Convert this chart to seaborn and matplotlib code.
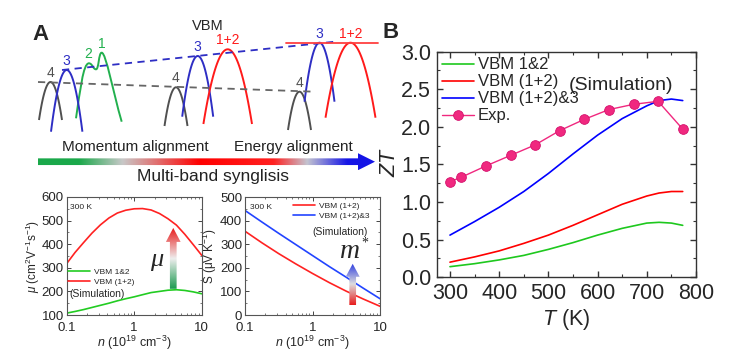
import numpy as np
import seaborn as sns
import matplotlib.pyplot as plt
import matplotlib.ticker as ticker
from matplotlib.patches import FancyArrow, PathPatch
from matplotlib.path import Path
from matplotlib.colors import LinearSegmentedColormap

# ---- data: panel B (ZT vs T) ----
T_sim = [300, 350, 400, 450, 500, 550, 600, 650, 700, 725, 750, 773]
zt_12 = [0.14, 0.18, 0.23, 0.29, 0.37, 0.46, 0.56, 0.65, 0.72, 0.73, 0.72, 0.69]
zt_1p2 = [0.20, 0.27, 0.35, 0.45, 0.56, 0.69, 0.83, 0.97, 1.08, 1.12, 1.14, 1.14]
zt_1p2_3 = [0.56, 0.74, 0.93, 1.14, 1.38, 1.64, 1.89, 2.11, 2.28, 2.35, 2.37, 2.35]
T_exp = [300, 323, 373, 423, 473, 523, 573, 623, 673, 723, 773]
zt_exp = [1.27, 1.33, 1.48, 1.62, 1.76, 1.95, 2.10, 2.23, 2.30, 2.34, 1.97]

# ---- data: mobility vs n ----
n_mu = [0.1, 0.133, 0.178, 0.237, 0.316, 0.422, 0.562, 0.75, 1.0,
        1.33, 1.78, 2.37, 3.16, 4.22, 5.62, 7.5, 10]
mu_12 = [108, 115, 123, 132, 141, 150, 160, 169, 177,
         186, 195, 200, 205, 207, 204, 198, 190]
mu_1p2 = [318, 365, 407, 447, 482, 511, 532, 544, 550,
          551, 545, 530, 508, 481, 442, 398, 353]

# ---- data: Seebeck vs n ----
n_s = [0.1, 0.178, 0.316, 0.562, 1.0, 1.78, 3.16, 5.62, 10]
s_1p2 = [355, 306, 260, 217, 176, 137, 101, 68, 37]
s_1p2_3 = [443, 394, 346, 299, 252, 205, 160, 114, 69]

# ---- schematic bands (figure pixels, y down) ----
band_x = [50.5, 66.7, 176, 197.7, 227.7, 299.5, 319.5, 350.5]
band_top = [82, 70, 87.3, 56, 49.3, 91.7, 42.7, 42.7]
band_half = [11.5, 15.7, 11.5, 15.5, 24.3, 11.5, 15.0, 25.0]
band_depth = [38, 61.7, 38.7, 60.7, 74.7, 38.3, 59, 75]
band_label = ['4', '3', '4', '3', '1+2', '4', '3', '1+2']
band_kind = ['g', 'b', 'g', 'b', 'r', 'g', 'b', 'r']

GRAY, BLUE, RED, GREEN = '#505050', '#2e2ec4', '#ff1a1a', '#22b04e'
kind_col = {'g': GRAY, 'b': BLUE, 'r': RED}

sns.set_style('ticks')
plt.rcParams['font.family'] = ['Liberation Sans', 'DejaVu Sans']
plt.rcParams['mathtext.fontset'] = 'custom'
plt.rcParams['mathtext.rm'] = 'Liberation Sans'
plt.rcParams['mathtext.it'] = 'Liberation Sans:italic'
plt.rcParams['mathtext.bf'] = 'Liberation Sans:bold'

W, H = 737, 352
fig = plt.figure(figsize=(W / 100, H / 100), dpi=100)


def px_axes(l, t, r, b):
    return fig.add_axes([l / W, 1 - b / H, (r - l) / W, (b - t) / H])


ax_mu = px_axes(66.7, 197, 201.7, 315)
ax_s = px_axes(245, 197, 380, 315)
ax_b = px_axes(436.7, 51.7, 696, 277.2)
ov = fig.add_axes([0, 0, 1, 1], zorder=10)
ov.axis('off')

# ---------------- panel B ----------------
sns.lineplot(x=T_sim, y=zt_12, color='#1ec81e', lw=1.2, label='VBM 1&2', ax=ax_b)
sns.lineplot(x=T_sim, y=zt_1p2, color='#ff0000', lw=1.2, label='VBM (1+2)', ax=ax_b)
sns.lineplot(x=T_sim, y=zt_1p2_3, color='#0000ff', lw=1.2, label='VBM (1+2)&3', ax=ax_b)
sns.lineplot(x=T_exp, y=zt_exp, color='#f0287f', lw=1.0, marker='o', markersize=7,
             mec='#d4106c', mew=0.6, label='Exp.', ax=ax_b)
ax_b.set_xlim(273, 800)
ax_b.set_ylim(0, 3)
ax_b.xaxis.set_major_locator(ticker.MultipleLocator(100))
ax_b.xaxis.set_minor_locator(ticker.MultipleLocator(50))
ax_b.yaxis.set_major_locator(ticker.MultipleLocator(0.5))
ax_b.yaxis.set_minor_locator(ticker.MultipleLocator(0.25))
ax_b.yaxis.set_major_formatter(ticker.FormatStrFormatter('%.1f'))
ax_b.tick_params(which='both', direction='in', top=True, right=True, labelsize=15.5, color='#333333')
ax_b.tick_params(which='major', length=4, width=1, pad=4)
ax_b.tick_params(which='minor', length=2, width=0.8)
for sp in ax_b.spines.values():
    sp.set_linewidth(1.0)
    sp.set_color('#333333')
ax_b.set_xlabel(r'$T$ (K)', fontsize=15.5)
ax_b.set_ylabel(r'$ZT$', fontsize=15.5)
ax_b.xaxis.set_label_coords(0.5, -0.13)
ax_b.yaxis.set_label_coords(-0.142, 0.51)
ax_b.legend(loc='upper left', bbox_to_anchor=(0.02, 0.975), frameon=False, fontsize=12,
            handlelength=1.9, handletextpad=0.25, labelspacing=0.12, borderaxespad=0, borderpad=0)
ax_b.text(0.711, 0.852, '(Simulation)', transform=ax_b.transAxes, fontsize=14, ha='center', va='center')

# ---------------- mobility panel ----------------
sns.lineplot(x=n_mu, y=mu_12, color='#22cc22', lw=1.2, label='VBM 1&2', ax=ax_mu)
sns.lineplot(x=n_mu, y=mu_1p2, color='#ff2222', lw=1.2, label='VBM (1+2)', ax=ax_mu)
ax_mu.set_xscale('log')
ax_mu.set_xlim(0.1, 10)
ax_mu.set_ylim(100, 600)
ax_mu.yaxis.set_major_locator(ticker.MultipleLocator(100))
ax_mu.yaxis.set_minor_locator(ticker.MultipleLocator(50))
ax_mu.set_ylabel(r'$\mu$ (cm$^2$V$^{-1}$s$^{-1}$)', fontsize=8.5)
ax_mu.yaxis.set_label_coords(-0.18, 0.5)
ax_mu.legend(loc='upper left', bbox_to_anchor=(0.01, 0.40), frameon=False, fontsize=6,
             handlelength=2.6, handletextpad=0.5, labelspacing=0.25, borderaxespad=0, borderpad=0)
ax_mu.text(0.02, 0.18, '(Simulation)', transform=ax_mu.transAxes, fontsize=7.5, va='center')
ax_mu.text(0.025, 0.915, '300 K', transform=ax_mu.transAxes, fontsize=6, va='center')
ax_mu.text(2.15, 332, 'μ', fontfamily=['Liberation Serif'], style='italic', fontsize=19,
           ha='center', va='center')

# ---------------- Seebeck panel ----------------
sns.lineplot(x=n_s, y=s_1p2, color='#ff2222', lw=1.2, label='VBM (1+2)', ax=ax_s)
sns.lineplot(x=n_s, y=s_1p2_3, color='#2244ff', lw=1.2, label='VBM (1+2)&3', ax=ax_s)
ax_s.set_xscale('log')
ax_s.set_xlim(0.1, 10)
ax_s.set_ylim(0, 500)
ax_s.yaxis.set_major_locator(ticker.MultipleLocator(100))
ax_s.yaxis.set_minor_locator(ticker.MultipleLocator(50))
ax_s.set_ylabel('S (μV K$^{-1}$)', fontsize=8.5)
ax_s.yaxis.set_label_coords(-0.19, 0.5)
ax_s.legend(loc='upper left', bbox_to_anchor=(0.356, 0.955), frameon=False, fontsize=6,
            handlelength=2.6, handletextpad=0.5, labelspacing=0.25, borderaxespad=0, borderpad=0)
ax_s.text(0.707, 0.705, '(Simulation)', transform=ax_s.transAxes, fontsize=7.5, ha='center', va='center')
ax_s.text(0.035, 0.915, '300 K', transform=ax_s.transAxes, fontsize=6, va='center')
ax_s.text(3.6, 267, 'm', fontfamily=['Liberation Serif'], style='italic', fontsize=20,
          ha='center', va='center')
ax_s.text(6.0, 305, '*', fontfamily=['Liberation Serif'], fontsize=10, ha='center', va='center')

for ax in (ax_mu, ax_s):
    ax.set_xticks([0.1, 1, 10])
    ax.xaxis.set_major_formatter(ticker.FuncFormatter(lambda v, _: f'{v:g}'))
    ax.xaxis.set_minor_locator(ticker.LogLocator(base=10, subs=np.arange(2, 10)))
    ax.xaxis.set_minor_formatter(ticker.NullFormatter())
    ax.set_xlabel(r'$n$ (10$^{19}$ cm$^{-3}$)', fontsize=9)
    ax.xaxis.set_label_coords(0.5, -0.16)
    ax.tick_params(which='both', direction='in', top=True, right=True, labelsize=9.5,
                   color='#444444', pad=2)
    ax.tick_params(axis='x', which='major', pad=4.8)
    ax.tick_params(which='major', length=3, width=0.7)
    ax.tick_params(which='minor', length=1.5, width=0.5)
    for sp in ax.spines.values():
        sp.set_linewidth(0.8)
        sp.set_color('#555555')

# ---------------- overlay: schematic + gradient arrows ----------------
ov.set_xlim(0, W)
ov.set_ylim(H, 0)


def to_ov(ax, x, y):
    return ov.transData.inverted().transform(ax.transData.transform((x, y)))


def grad_arrow(x0, y0, x1, y1, width, head_w, head_len, stops):
    arr = FancyArrow(x0, y0, x1 - x0, y1 - y0, width=width, head_width=head_w,
                     head_length=head_len, length_includes_head=True, fc='none', ec='none')
    ov.add_patch(arr)
    cmap = LinearSegmentedColormap.from_list('grad', stops)
    g = np.linspace(0, 1, 256)
    if abs(x1 - x0) > abs(y1 - y0):
        img = g[None, :]
        ext = (x0, x1, y0 + head_w / 2, y0 - head_w / 2)
    else:
        img = g[::-1, None]
        ext = (x0 - head_w / 2, x0 + head_w / 2, y0, y1)
    im = ov.imshow(img, cmap=cmap, extent=ext, origin='upper', aspect='auto',
                   interpolation='bilinear')
    im.set_clip_path(arr)


# bands
for xc, top, hw, dep, lab, k in zip(band_x, band_top, band_half, band_depth, band_label, band_kind):
    s = np.linspace(-1, 1, 80)
    ov.plot(xc + s * hw, top + dep * s ** 2, color=kind_col[k], lw=1.4, solid_capstyle='butt')
    ov.text(xc, top - 2, lab, color=kind_col[k], fontsize=10, ha='center', va='bottom')

# green double band (1 & 2)
green_path = Path([(76, 118.3), (80, 92), (83, 63), (89, 63.3),
                   (92.5, 63.5), (93, 69.3), (96, 69.3),
                   (99, 69.3), (98.5, 52.7), (101.7, 52.7),
                   (106, 52.7), (113, 92), (121.7, 121.7)],
                  [Path.MOVETO] + [Path.CURVE4] * 12)
ov.add_patch(PathPatch(green_path, fc='none', ec=GREEN, lw=1.4))
ov.text(88.3, 61, '2', color=GREEN, fontsize=10, ha='center', va='bottom')
ov.text(101.7, 50.5, '1', color=GREEN, fontsize=10, ha='center', va='bottom')

# guide lines
ov.plot([62, 335], [70, 41.7], color=BLUE, lw=1.3, ls=(0, (4, 3)))
ov.plot([38, 315], [82, 91.7], color='#666666', lw=1.3, ls=(0, (4, 3)))
ov.plot([286, 378.3], [42.7, 42.7], color='#ff4040', lw=1.3)

ov.text(208, 26, 'VBM', fontsize=10.5, ha='center', va='center')
ov.text(41, 34, 'A', fontsize=16, fontweight='bold', ha='center', va='center')
ov.text(391, 33, 'B', fontsize=16, fontweight='bold', ha='center', va='center')
ov.text(135.5, 146.7, 'Momentum alignment', fontsize=11, ha='center', va='center', color='#222222')
ov.text(293.5, 146.7, 'Energy alignment', fontsize=11, ha='center', va='center', color='#222222')
ov.text(213, 176.7, 'Multi-band synglisis', fontsize=12.5, ha='center', va='center', color='#222222')

grad_arrow(38, 161.7, 375, 161.7, 6.7, 17, 17,
           [(0, '#1aa84a'), (0.12, '#1aa84a'), (0.25, '#c8c8c8'), (0.48, '#ff0000'),
            (0.70, '#ff2020'), (0.80, '#c4c4d0'), (0.92, '#1414e6'), (1, '#1414e6')])

mx0, my0 = to_ov(ax_mu, 3.79, 211)
mx1, my1 = to_ov(ax_mu, 3.79, 469)
grad_arrow(mx0, my0, mx1, my1, 6.7, 14.7, 14,
           [(0, '#1c9a50'), (0.5, '#eeeeee'), (1, '#e81c1c')])
sx0, sy0 = to_ov(ax_s, 3.94, 41)
sx1, sy1 = to_ov(ax_s, 3.94, 217)
grad_arrow(sx0, sy0, sx1, sy1, 6.7, 14, 13,
           [(0, '#e81c1c'), (0.5, '#dddddd'), (1, '#2a3ae0')])

ov.set_xlim(0, W)
ov.set_ylim(H, 0)

fig.savefig('out.png', dpi=100)
